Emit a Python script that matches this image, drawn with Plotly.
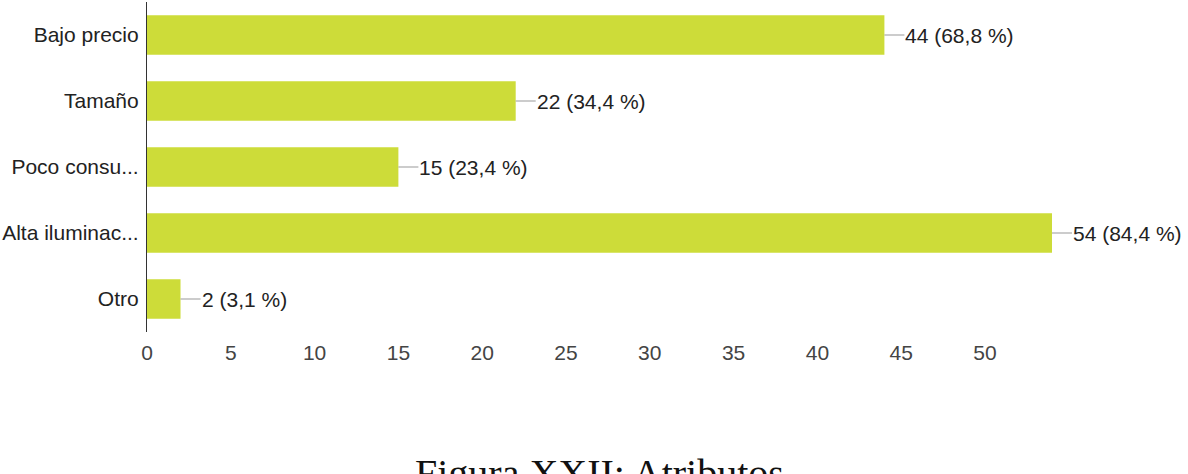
import plotly.graph_objects as go

categories = ["Bajo precio", "Tamaño", "Poco consu...", "Alta iluminac...", "Otro"]
counts = [44, 22, 15, 54, 2]
percents = ["68,8", "34,4", "23,4", "84,4", "3,1"]
x_ticks = [0, 5, 10, 15, 20, 25, 30, 35, 40, 45, 50]
caption = "Figura XXII: Atributos"

BAR = "#cddc39"
FONT = "Liberation Sans, Arial, sans-serif"

fig = go.Figure(go.Bar(
    x=counts, y=categories, orientation="h",
    marker=dict(color=BAR, line=dict(width=0)),
    width=0.6, hoverinfo="skip",
))

for c, v, p in zip(categories, counts, percents):
    fig.add_annotation(
        x=v, y=c, xref="x", yref="y",
        text=f"{v} ({p} %)", showarrow=True, arrowhead=0, arrowwidth=1.2,
        arrowcolor="#999999", ax=20, ay=0, xanchor="left", yanchor="middle",
        font=dict(family=FONT, size=21, color="#222222"),
        borderpad=0,
    )

fig.add_annotation(
    x=0.5, y=-0.355, xref="paper", yref="paper", text=caption, showarrow=False,
    xanchor="center", yanchor="top",
    font=dict(family="Liberation Serif, Times New Roman, serif", size=40, color="#111111"),
)

fig.update_layout(
    width=1188, height=474,
    margin=dict(l=145, r=136, t=2, b=142),
    plot_bgcolor="white", paper_bgcolor="white",
    showlegend=False,
    font=dict(family=FONT, size=21, color="#444444"),
    xaxis=dict(range=[0, 54], tickvals=x_ticks, showgrid=False, zeroline=False,
               showline=False, ticks="", tickfont=dict(size=21, color="#444444"),
               ticklabelstandoff=6),
    yaxis=dict(autorange="reversed", showline=True, linecolor="#333333", linewidth=1.2,
               ticks="", showgrid=False, tickfont=dict(size=21, color="#222222"),
               ticklabelstandoff=3),
)

fig.write_html("out.html")
